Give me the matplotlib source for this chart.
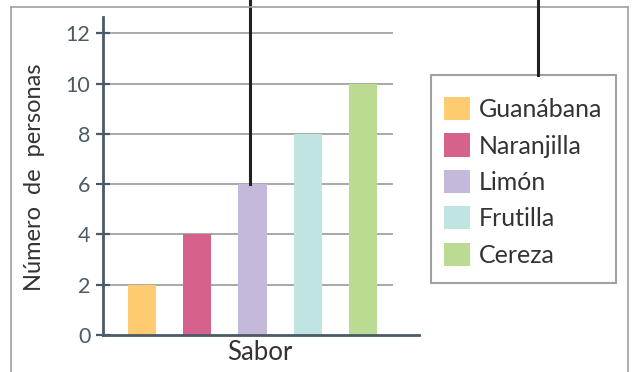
import matplotlib.pyplot as plt
from matplotlib.lines import Line2D
from matplotlib.patches import Patch, Rectangle

plt.rcParams['font.family'] = ['Lato', 'DejaVu Sans']

sabores = ['Guanábana', 'Naranjilla', 'Limón', 'Frutilla', 'Cereza']
personas = [2, 4, 6, 8, 10]
colores = ['#FECB70', '#D6618C', '#C4B9DA', '#C0E4E0', '#BCDB92']
yticks = [0, 2, 4, 6, 8, 10, 12]

W, H = 633, 372
fig = plt.figure(figsize=(W / 100, H / 100), dpi=100)
ax = fig.add_axes([103 / W, 37 / H, (419 - 103) / W, (335 - 17) / H])

axis_col = '#4A5A66'
grid_col = '#A8A8A8'

x = list(range(len(sabores)))
ax.hlines(yticks[1:], -0.705, 4.54, color=grid_col, lw=1.4, zorder=0)
ax.bar(x, personas, width=0.51, color=colores, zorder=2)

ax.set_xlim(-0.705, 5.01)
ax.set_ylim(0, 12.65)
ax.set_xticks([])
ax.set_yticks(yticks)
ax.tick_params(axis='y', direction='inout', length=10, width=1.6,
               color=axis_col, labelcolor=axis_col, labelsize=15.5, pad=4)
for s in ['top', 'right']:
    ax.spines[s].set_visible(False)
for s in ['left', 'bottom']:
    ax.spines[s].set_color(axis_col)
    ax.spines[s].set_linewidth(2)

fig.text(260 / W, 1 - 352 / H, 'Sabor', ha='center', va='center',
         fontsize=18.5, color='#333333')
fig.text(35 / W, 1 - 177 / H, 'Número  de  personas', rotation=90,
         ha='center', va='center', fontsize=17, color='#333333')

# pointer line from the top down to the Limón bar
ax.plot([x[2] - 0.04, x[2] - 0.04], [personas[2], 13.4], color='#222222',
        lw=2.2, clip_on=False, zorder=3)

# legend box drawn separately so its size matches
fig.add_artist(Rectangle((431 / W, 1 - 283 / H), (616 - 431) / W, (283 - 75) / H,
                         transform=fig.transFigure, facecolor='white',
                         edgecolor='#A0A0A0', lw=1.5))
handles = [Patch(facecolor=c, edgecolor='none') for c in colores]
leg = fig.legend(handles, sabores, loc='upper left',
                 bbox_to_anchor=(431 / W, 1 - 84 / H),
                 bbox_transform=fig.transFigure,
                 borderaxespad=0, fontsize=18, frameon=False,
                 handlelength=1.05, handleheight=1.05, handletextpad=0.35,
                 labelspacing=0.49, borderpad=0.52)
for t in leg.get_texts():
    t.set_color('#333333')

# outer frame and pointer line to the legend
frame = dict(color='#A0A0A0', lw=1.2, transform=fig.transFigure)
fig.add_artist(Line2D([11 / W, 11 / W], [0, 1 - 7 / H], **frame))
fig.add_artist(Line2D([11 / W, 628 / W], [1 - 7 / H, 1 - 7 / H], **frame))
fig.add_artist(Line2D([628 / W, 628 / W], [0, 1 - 7 / H], **frame))
fig.add_artist(Line2D([538 / W, 538 / W], [1 - 75 / H, 1], color='#222222',
                      lw=2.2, transform=fig.transFigure))

plt.savefig('out.png', dpi=100)
